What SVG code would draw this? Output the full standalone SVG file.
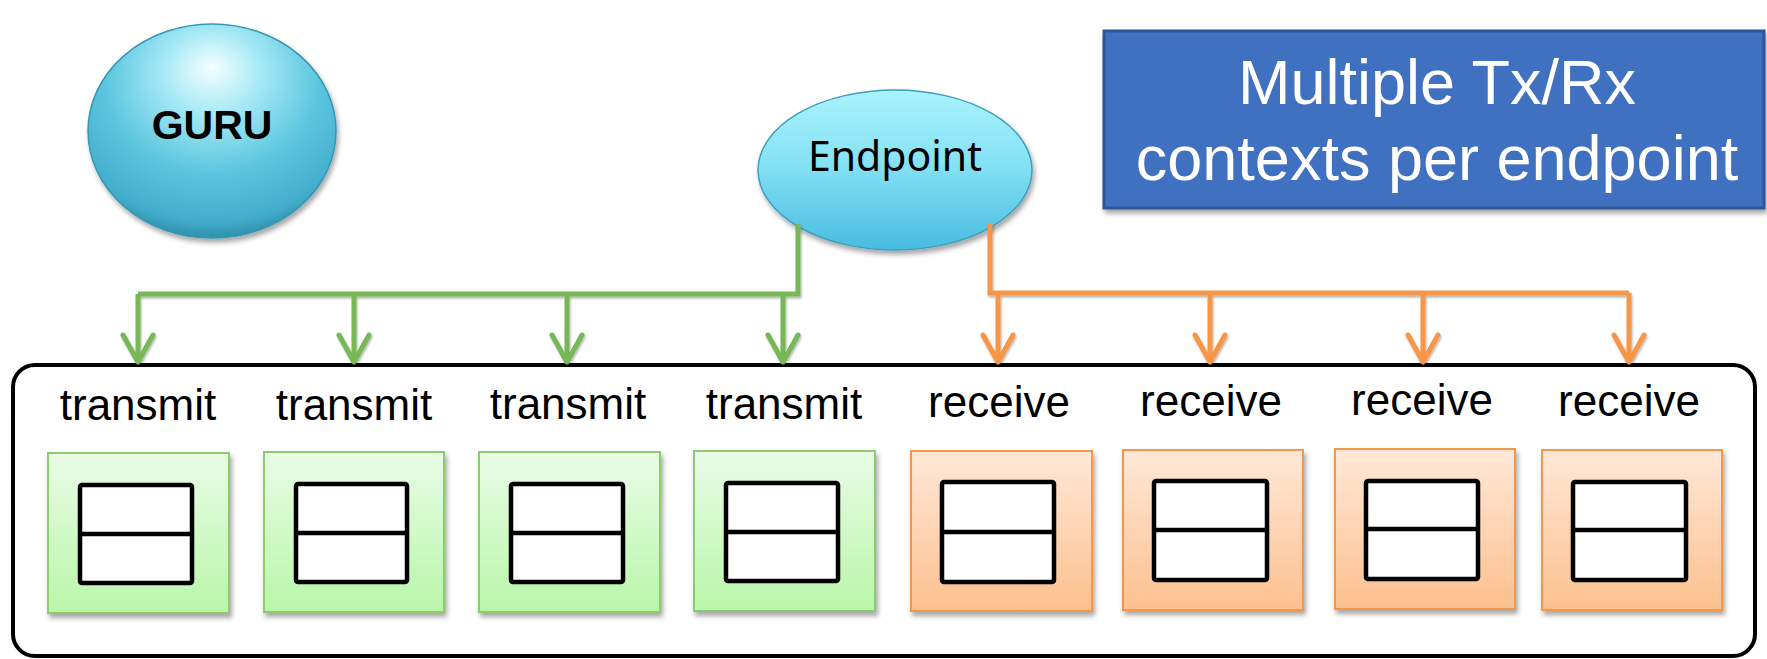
<svg xmlns="http://www.w3.org/2000/svg" width="1767" height="659" viewBox="0 0 1767 659">
  <defs>
    <style>
      .lbl { font-family: "Liberation Sans", Arial, sans-serif; font-size: 44px; fill: #000; text-anchor: middle; }
      .cell { fill: #fff; stroke: #000; stroke-width: 4.5; stroke-linejoin: round; }
      .tx { fill: url(#gTx); stroke: #8CCB6E; stroke-width: 2; filter: url(#shadow); }
      .rx { fill: url(#gRx); stroke: #F79646; stroke-width: 2; filter: url(#shadow); }
      .wire { fill: none; stroke-width: 5; stroke-linejoin: miter; }
      .green { stroke: #77B757; }
      .orange { stroke: #F79646; }
    </style>
    <linearGradient id="gTx" x1="0" y1="0" x2="0" y2="1">
      <stop offset="0" stop-color="#E9FCE6"/>
      <stop offset="1" stop-color="#B9F6A9"/>
    </linearGradient>
    <linearGradient id="gRx" x1="0" y1="0" x2="0" y2="1">
      <stop offset="0" stop-color="#FFE8D8"/>
      <stop offset="1" stop-color="#FCC08E"/>
    </linearGradient>
    <radialGradient id="gSphere" cx="0.5" cy="0.3" r="0.72" fx="0.5" fy="0.2">
      <stop offset="0" stop-color="#F4FFFF"/>
      <stop offset="0.28" stop-color="#A4E8F5"/>
      <stop offset="0.6" stop-color="#5CC6DF"/>
      <stop offset="0.88" stop-color="#42AECB"/>
      <stop offset="1" stop-color="#2A88A4"/>
    </radialGradient>
    <linearGradient id="gEllipse" x1="0" y1="0" x2="0" y2="1">
      <stop offset="0" stop-color="#A9F3FC"/>
      <stop offset="0.45" stop-color="#86E2F4"/>
      <stop offset="1" stop-color="#48BCE0"/>
    </linearGradient>
    <filter id="shadow" x="-10%" y="-10%" width="125%" height="130%">
      <feDropShadow dx="2" dy="4" stdDeviation="2.5" flood-color="#000" flood-opacity="0.35"/>
    </filter>
    <filter id="lineShadow" filterUnits="userSpaceOnUse" x="0" y="0" width="1767" height="659">
      <feDropShadow dx="1" dy="2" stdDeviation="1.2" flood-color="#000" flood-opacity="0.3"/>
    </filter>
    <marker id="arrowGreen" viewBox="-31 -19 35 38" refX="0" refY="0" markerWidth="35" markerHeight="38" markerUnits="userSpaceOnUse" orient="auto">
      <path d="M -27 -15 L 0 0 L -27 15" fill="none" stroke="#77B757" stroke-width="5" stroke-linecap="round" stroke-linejoin="round"/>
    </marker>
    <marker id="arrowOrange" viewBox="-31 -19 35 38" refX="0" refY="0" markerWidth="35" markerHeight="38" markerUnits="userSpaceOnUse" orient="auto">
      <path d="M -27 -15 L 0 0 L -27 15" fill="none" stroke="#F79646" stroke-width="5" stroke-linecap="round" stroke-linejoin="round"/>
    </marker>
  </defs>

  <rect width="1767" height="659" fill="#fff"/>

  <!-- GURU sphere -->
  <g id="guru">
    <ellipse cx="212" cy="131" rx="124" ry="107" fill="url(#gSphere)" stroke="#3497B4" stroke-width="1.5" filter="url(#shadow)"/>
    <text x="212" y="139" font-family="'Liberation Sans', Arial, sans-serif" font-weight="bold" font-size="41" text-anchor="middle" fill="#000">GURU</text>
  </g>

  <!-- Endpoint -->
  <g id="endpoint">
    <ellipse cx="895" cy="170" rx="137" ry="80" fill="url(#gEllipse)" stroke="#3E9EBE" stroke-width="1.5" filter="url(#shadow)"/>
    <text x="895" y="171" font-family="'Noto Sans', 'Open Sans', sans-serif" font-size="41" text-anchor="middle" fill="#000" textLength="174" lengthAdjust="spacingAndGlyphs">Endpoint</text>
  </g>

  <!-- Caption box -->
  <g id="caption">
    <rect x="1104" y="31" width="660" height="177" fill="#4070C0" stroke="#2F5597" stroke-width="3" filter="url(#shadow)"/>
    <text x="1437" y="104" font-family="'Liberation Sans', Arial, sans-serif" font-size="63" text-anchor="middle" fill="#fff">Multiple Tx/Rx</text>
    <text x="1437" y="180" font-family="'Liberation Sans', Arial, sans-serif" font-size="63" text-anchor="middle" fill="#fff">contexts per endpoint</text>
  </g>

  <!-- Context container -->
  <g id="contexts">
    <rect x="13" y="365" width="1742" height="291" rx="22" ry="22" fill="#fff" stroke="#000" stroke-width="4"/>
  </g>

  <!-- Connectors: one shadowed group for each colour -->
  <g id="connectors">
    <g filter="url(#lineShadow)">
      <path class="wire green" d="M 798 224 L 798 294 L 138 294"/>
      <path class="wire green" d="M 138 294 L 138 362" marker-end="url(#arrowGreen)"/>
      <path class="wire green" d="M 354 294 L 354 362" marker-end="url(#arrowGreen)"/>
      <path class="wire green" d="M 567 294 L 567 362" marker-end="url(#arrowGreen)"/>
      <path class="wire green" d="M 783 294 L 783 362" marker-end="url(#arrowGreen)"/>
    </g>
    <g filter="url(#lineShadow)">
      <path class="wire orange" d="M 990 224 L 990 293 L 1629 293"/>
      <path class="wire orange" d="M 998 293 L 998 362" marker-end="url(#arrowOrange)"/>
      <path class="wire orange" d="M 1210 293 L 1210 362" marker-end="url(#arrowOrange)"/>
      <path class="wire orange" d="M 1423 293 L 1423 362" marker-end="url(#arrowOrange)"/>
      <path class="wire orange" d="M 1629 293 L 1629 362" marker-end="url(#arrowOrange)"/>
    </g>
  </g>

  <!-- Transmit contexts -->
  <g id="tx1">
    <text class="lbl" x="138" y="420">transmit</text>
    <rect class="tx" x="48" y="453" width="181" height="160"/>
    <rect class="cell" x="80" y="485" width="112" height="98" rx="2"/>
    <line x1="80" y1="534" x2="192" y2="534" stroke="#000" stroke-width="4.5"/>
  </g>
  <g id="tx2">
    <text class="lbl" x="354" y="420">transmit</text>
    <rect class="tx" x="264" y="452" width="180" height="160"/>
    <rect class="cell" x="296" y="484" width="111" height="98" rx="2"/>
    <line x1="296" y1="533" x2="407" y2="533" stroke="#000" stroke-width="4.5"/>
  </g>
  <g id="tx3">
    <text class="lbl" x="568" y="419">transmit</text>
    <rect class="tx" x="479" y="452" width="181" height="160"/>
    <rect class="cell" x="511" y="484" width="112" height="98" rx="2"/>
    <line x1="511" y1="533" x2="623" y2="533" stroke="#000" stroke-width="4.5"/>
  </g>
  <g id="tx4">
    <text class="lbl" x="784" y="419">transmit</text>
    <rect class="tx" x="694" y="451" width="181" height="160"/>
    <rect class="cell" x="726" y="483" width="112" height="98" rx="2"/>
    <line x1="726" y1="532" x2="838" y2="532" stroke="#000" stroke-width="4.5"/>
  </g>

  <!-- Receive contexts -->
  <g id="rx1">
    <text class="lbl" x="999" y="417">receive</text>
    <rect class="rx" x="911" y="451" width="181" height="160"/>
    <rect class="cell" x="942" y="482" width="112" height="100" rx="2"/>
    <line x1="942" y1="532" x2="1054" y2="532" stroke="#000" stroke-width="4.5"/>
  </g>
  <g id="rx2">
    <text class="lbl" x="1211" y="416">receive</text>
    <rect class="rx" x="1123" y="450" width="180" height="160"/>
    <rect class="cell" x="1154" y="481" width="113" height="99" rx="2"/>
    <line x1="1154" y1="530" x2="1267" y2="530" stroke="#000" stroke-width="4.5"/>
  </g>
  <g id="rx3">
    <text class="lbl" x="1422" y="415">receive</text>
    <rect class="rx" x="1335" y="449" width="180" height="160"/>
    <rect class="cell" x="1366" y="481" width="112" height="98" rx="2"/>
    <line x1="1366" y1="529" x2="1478" y2="529" stroke="#000" stroke-width="4.5"/>
  </g>
  <g id="rx4">
    <text class="lbl" x="1629" y="416">receive</text>
    <rect class="rx" x="1542" y="450" width="180" height="160"/>
    <rect class="cell" x="1573" y="482" width="113" height="98" rx="2"/>
    <line x1="1573" y1="530" x2="1686" y2="530" stroke="#000" stroke-width="4.5"/>
  </g>
</svg>
